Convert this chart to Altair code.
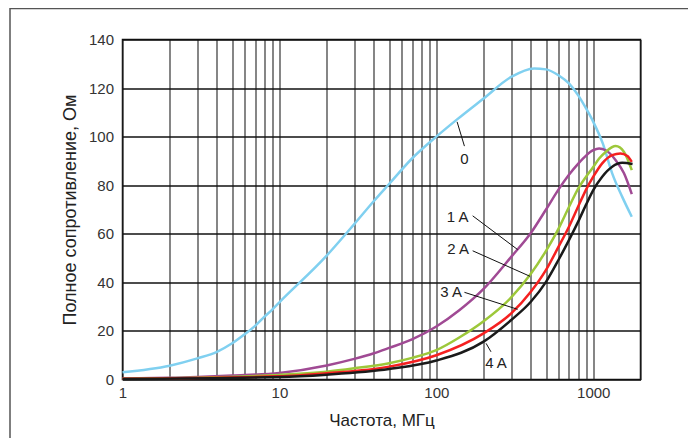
import altair as alt
import pandas as pd

FONT = "Liberation Sans"

# ---- data ----
series_names = ["0", "1 A", "2 A", "3 A", "4 A"]
series_colors = ["#80d0f0", "#a04a94", "#9dc83a", "#f52020", "#1a1a1a"]

freq_0 = [1, 2, 3, 4, 5, 6, 7, 8, 9, 10, 20, 30, 40, 50, 70, 100, 135, 200, 300,
          420, 500, 600, 700, 800, 900, 1000, 1150, 1320, 1530, 1760]
imp_0 = [3.0, 5.7, 8.7, 11.4, 14.9, 18.6, 22.1, 25.8, 28.8, 31.8, 51.0, 64.0, 73.5,
         80.5, 91.0, 100.0, 107.0, 115.7, 124.6, 128.1, 127.7, 125.3, 121.9, 117.1,
         111.6, 106.1, 97.2, 84.9, 75.2, 67.0]

freq_1 = [1, 2, 3, 5, 10, 20, 30, 40, 50, 70, 100, 140, 200, 300, 400, 500, 600,
          700, 800, 900, 1000, 1090, 1200, 1390, 1570, 1760]
imp_1 = [0.4, 0.7, 1.0, 1.6, 2.7, 5.8, 8.5, 10.8, 13.0, 16.5, 21.8, 28.5, 37.3,
         50.5, 60.3, 70.0, 78.2, 84.3, 88.8, 92.2, 94.4, 95.1, 94.4, 90.3, 84.9, 76.3]

freq_2 = [1, 10, 20, 30, 50, 70, 100, 140, 200, 300, 400, 500, 600, 700, 800, 900,
          1000, 1090, 1200, 1390, 1570, 1760]
imp_2 = [0.3, 1.9, 3.2, 4.6, 6.7, 8.9, 12.1, 17.3, 24.0, 33.8, 43.5, 53.0, 62.0,
         71.0, 78.5, 83.5, 87.5, 91.0, 93.7, 96.1, 93.7, 86.2]

freq_3 = [1, 10, 20, 50, 100, 200, 300, 400, 500, 600, 700, 800, 900, 1000, 1140,
          1320, 1490, 1650, 1760]
imp_3 = [0.3, 1.3, 2.6, 5.3, 10.0, 19.0, 27.2, 36.1, 45.1, 54.6, 62.9, 71.1, 78.2,
         83.5, 89.0, 92.4, 93.1, 92.0, 89.6]

freq_4 = [1, 10, 20, 50, 100, 200, 300, 400, 500, 600, 700, 800, 900, 1000, 1140,
          1320, 1530, 1780]
imp_4 = [0.2, 1.0, 2.0, 4.3, 7.8, 15.6, 24.5, 32.0, 40.2, 49.2, 57.4, 64.9, 72.0,
         78.0, 83.5, 87.6, 89.2, 88.7]

# curve labels and their leader lines
label_text = ["0", "1 A", "2 A", "3 A", "4 A"]
label_f = [151, 136.8, 137.5, 124.2, 240]
label_z = [91.0, 67.0, 53.6, 35.9, 6.7]
leader_f1 = [135.6, 170.4, 170.4, 151, 223]
leader_z1 = [106.1, 67.4, 53.0, 35.9, 11.4]
leader_f2 = [151, 329.6, 395, 329.6, 207.4]
leader_z2 = [96.1, 53.5, 42.5, 28.9, 14.9]

x_ticks = [1, 2, 3, 4, 5, 6, 7, 8, 9, 10, 20, 30, 40, 50, 60, 70, 80, 90,
           100, 200, 300, 400, 500, 600, 700, 800, 900, 1000, 2000]
y_ticks = [0, 20, 40, 60, 80, 100, 120, 140]

X_TITLE = "Частота, МГц"
Y_TITLE = "Полное сопротивление, Ом"

# ---- tables ----
rows = []
for name, fs, vs in zip(series_names,
                        [freq_0, freq_1, freq_2, freq_3, freq_4],
                        [imp_0, imp_1, imp_2, imp_3, imp_4]):
    for i, (f, v) in enumerate(zip(fs, vs)):
        rows.append({"series": name, "f": f, "z": v, "order": i})
curves = pd.DataFrame(rows)

labels = pd.DataFrame({"text": label_text, "f": label_f, "z": label_z})
leaders = pd.DataFrame({"f": leader_f1, "z": leader_z1, "f2": leader_f2, "z2": leader_z2})

x_scale = alt.Scale(type="log", domain=[1, 2000], nice=False)
y_scale = alt.Scale(domain=[0, 140], nice=False)

x_axis = alt.Axis(
    values=x_ticks,
    labelExpr="(datum.value==1||datum.value==10||datum.value==100||datum.value==1000) ? format(datum.value,'d') : ''",
    labelOverlap=False, labelFlush=False,
    ticks=False, domain=False,
    grid=True, gridColor="#222222", gridWidth=1.1, gridOpacity=1,
    labelFont=FONT, labelFontSize=15, labelColor="#333333", labelPadding=6,
    titleFont=FONT, titleFontSize=17, titleFontWeight="normal", titleColor="#222222",
    titleBaseline="alphabetic", titleY=45.5,
)
y_axis = alt.Axis(
    values=y_ticks,
    ticks=False, domain=False,
    grid=True, gridColor="#111111", gridWidth=1.4, gridOpacity=1,
    labelFont=FONT, labelFontSize=15, labelColor="#333333", labelPadding=9,
    titleFont=FONT, titleFontSize=18, titleFontWeight="normal", titleColor="#222222",
    titleBaseline="alphabetic", titleX=-47.5,
)

lines = alt.Chart(curves).mark_line(strokeWidth=2.5, interpolate="monotone").encode(
    x=alt.X("f:Q", scale=x_scale, axis=x_axis, title=X_TITLE),
    y=alt.Y("z:Q", scale=y_scale, axis=y_axis, title=Y_TITLE),
    color=alt.Color("series:N", scale=alt.Scale(domain=series_names, range=series_colors), legend=None),
    order="order:Q",
)

leader_rules = alt.Chart(leaders).mark_rule(color="#111111", strokeWidth=1).encode(
    x=alt.X("f:Q", scale=x_scale, title=X_TITLE),
    y=alt.Y("z:Q", scale=y_scale, title=Y_TITLE),
    x2="f2:Q", y2="z2:Q",
)

label_marks = alt.Chart(labels).mark_text(
    font=FONT, fontSize=15, color="#222222", align="center", baseline="middle"
).encode(
    x=alt.X("f:Q", scale=x_scale, title=X_TITLE),
    y=alt.Y("z:Q", scale=y_scale, title=Y_TITLE),
    text="text:N",
)

frame = alt.Chart(pd.DataFrame({"k": [0]})).mark_rect(
    fillOpacity=0, stroke="#555555", strokeWidth=1.5
).encode(
    x=alt.value(-112.5), x2=alt.value(570),
    y=alt.value(-31), y2=alt.value(480),
)

chart = alt.layer(lines, leader_rules, label_marks, frame).properties(
    width=518, height=340,
    padding={"left": 114.5, "top": 31.5, "right": 47.5, "bottom": 58},
    autosize=alt.AutoSizeParams(type="none"),
).configure_view(stroke="#111111", strokeWidth=1.5)

chart.save("out.html", embed_options={"renderer": "svg", "actions": False})
